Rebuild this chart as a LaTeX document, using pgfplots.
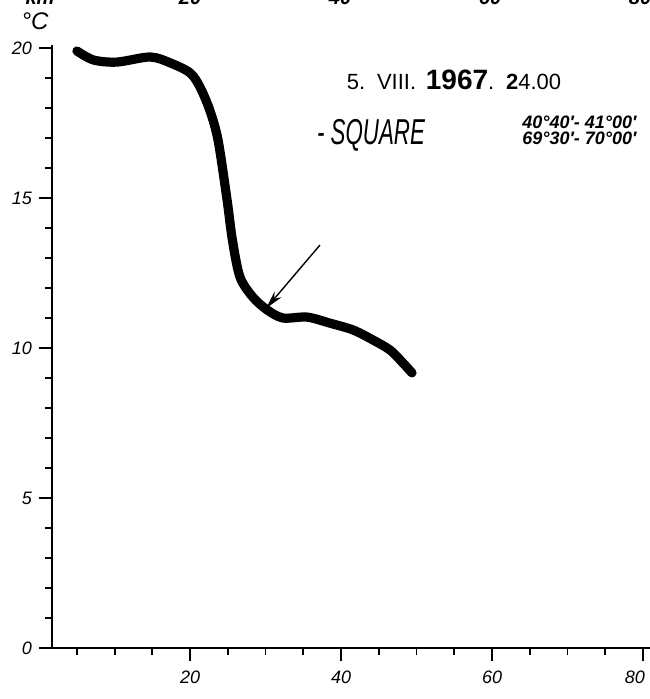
\documentclass[border=0pt]{standalone}
\usepackage{fontspec}
\setmainfont{Liberation Sans}
\usepackage{pgfplots}
\pgfplotsset{compat=1.18}
\usetikzlibrary{arrows.meta}
\begin{document}
\begin{tikzpicture}
\begin{axis}[
  at={(0,0)}, anchor=south west, scale only axis,
  width=299.25pt, height=301.5pt,
  xmin=1.7, xmax=81, ymin=0, ymax=20.1,
  axis lines=left, axis line style={-, line width=1.3pt},
  xtick={20,40,60,80}, xticklabels={20,40,60,\hspace*{-8pt}80},
  minor xtick={5,10,15,25,30,35,45,50,55,65,70,75},
  ytick={0,5,10,15,20}, minor ytick={1,...,19},
  tick align=outside, major tick length=6.5pt, minor tick length=3.5pt,
  tick style={black, line width=0.9pt},
  /pgf/number format/assume math mode=true,
  ticklabel style={font=\fontsize{9}{10}\selectfont\itshape},
  xticklabel style={yshift=-1.5pt},
  clip=false,
]
\addplot[black, line width=4.6pt, line cap=round, smooth, tension=0.5] coordinates {
  (5.0,19.9) (7.2,19.6) (10.3,19.53) (14.7,19.7) (17.4,19.5) (20.0,19.17)
  (21.3,18.7) (22.6,17.93) (23.7,16.93) (24.9,14.93) (25.6,13.6)
  (26.6,12.37) (28.3,11.7) (30.2,11.27) (32.3,11.0) (35.5,11.03)
  (38.5,10.83) (41.6,10.6) (44.2,10.27) (46.5,9.93) (48.2,9.5) (49.4,9.17)
};
\draw[-{Stealth[length=9pt,width=4.5pt]}, line width=0.7pt]
  (axis cs:37.2,13.43) -- (axis cs:30.1,11.33);
\end{axis}
% annotations
\node[font=\fontsize{12}{14}\selectfont\itshape] at (-8.5pt,313.5pt) {°C};
\node[font=\fontsize{11}{12}\selectfont] at (201pt,284pt)
  {5. \,VIII.\, {\fontsize{14}{16}\selectfont\bfseries 1967}. \,{\bfseries 2}4.00};
\node[font=\fontsize{18}{20}\selectfont\itshape, xscale=0.62] at (159.5pt,256.5pt) {- SQUARE};
\node[anchor=west, font=\fontsize{9}{8}\selectfont\itshape\bfseries, align=left,
  inner sep=0pt] at (235pt,259pt) {40°40′- 41°00′\\69°30′- 70°00′};
\foreach \x/\t in {-6/km, 69/20, 144/40, 219/60, 294/80}
  \node[anchor=south, font=\fontsize{10}{12}\selectfont\itshape\bfseries] at (\x pt,318pt) {\t};
\pgfresetboundingbox
\useasboundingbox (-26pt,-25.5pt) rectangle (298.5pt,324pt);
\end{tikzpicture}
\end{document}
